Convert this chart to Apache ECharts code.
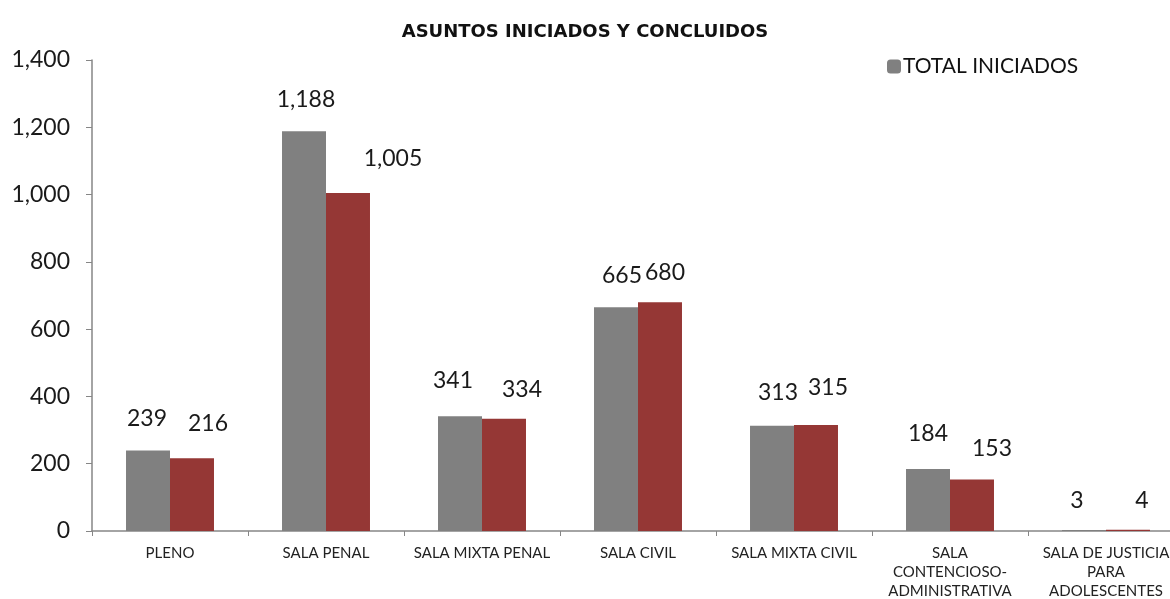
<!DOCTYPE html>
<html>
<head>
<meta charset="utf-8">
<script src="https://cdn.jsdelivr.net/npm/echarts@6/dist/echarts.min.js"></script>
<style>
  html, body { margin: 0; padding: 0; background: #fff; }
  #chart { width: 1170px; height: 599px; }
</style>
</head>
<body>
<div id="chart"></div>
<script>
// 分类
const categories = ['PLENO', 'SALA PENAL', 'SALA MIXTA PENAL', 'SALA CIVIL', 'SALA MIXTA CIVIL',
    'SALA\nCONTENCIOSO-\nADMINISTRATIVA', 'SALA DE JUSTICIA\nPARA\nADOLESCENTES'];

// 数值
const iniciados = [239, 1188, 341, 665, 313, 184, 3];
const concluidos = [216, 1005, 334, 680, 315, 153, 4];

const chart = echarts.init(document.getElementById('chart'));

const fmt = v => v.toLocaleString('en-US');
const font = "'Lato', 'Open Sans', sans-serif";

// 标签微调（参照原图手动挪动的位置）
const nudgeIni = [[-1, 0], [2, 1], [-7, -3], [6, 1], [6, -1], [0, -3], [-7, 3]];
const nudgeCon = [[16, -2], [45, -2], [18, 3], [5, 3], [12, -5], [20, 2], [14, 3]];

const barData = (vals, nudge) => vals.map((v, i) => ({
    value: v,
    label: { offset: nudge[i] }
}));

const labelStyle = {
    show: true, position: 'top', distance: 21, fontSize: 23, color: '#1a1a1a', fontFamily: font,
    formatter: p => fmt(p.value)
};

const option = {
    backgroundColor: '#fff',
    animation: false,
    title: {
        text: 'ASUNTOS INICIADOS Y CONCLUIDOS',
        left: 'center',
        top: 18,
        textStyle: { fontSize: 18, fontWeight: 'bold', color: '#111', fontFamily: "'DejaVu Sans', sans-serif" }
    },
    legend: {
        data: ['TOTAL INICIADOS'],
        left: 882,
        top: 51,
        itemWidth: 14,
        itemHeight: 14,
        itemGap: 5,
        textStyle: { fontSize: 21, color: '#111', fontFamily: font, padding: [0, 0, 0, -3] }
    },
    // 图表右侧超出画布被裁切
    grid: { left: 92, width: 1092, top: 60, height: 471, outerBoundsMode: 'none', containLabel: false },
    xAxis: {
        type: 'category',
        data: categories,
        axisLine: { lineStyle: { color: '#868686', width: 1.5 } },
        axisTick: { show: true, length: 5, lineStyle: { color: '#868686' } },
        axisLabel: {
            interval: 0, fontSize: 15, color: '#222', margin: 13, lineHeight: 19,
            fontFamily: font
        }
    },
    yAxis: {
        type: 'value',
        min: 0, max: 1400, interval: 200,
        axisLine: { show: true, lineStyle: { color: '#868686', width: 1.5 } },
        axisTick: { show: true, length: 6, lineStyle: { color: '#868686' } },
        splitLine: { show: false },
        axisLabel: { fontSize: 23, color: '#1a1a1a', margin: 22, formatter: fmt, fontFamily: font }
    },
    series: [
        {
            name: 'TOTAL INICIADOS', type: 'bar', data: barData(iniciados, nudgeIni),
            barGap: '0%', barCategoryGap: '43.6%',
            itemStyle: { color: '#808080' },
            label: labelStyle
        },
        {
            name: 'TOTAL CONCLUIDOS', type: 'bar', data: barData(concluidos, nudgeCon),
            itemStyle: { color: '#953735' },
            label: labelStyle
        }
    ]
};

chart.setOption(option);
window.addEventListener('resize', () => chart.resize());
</script>
</body>
</html>
